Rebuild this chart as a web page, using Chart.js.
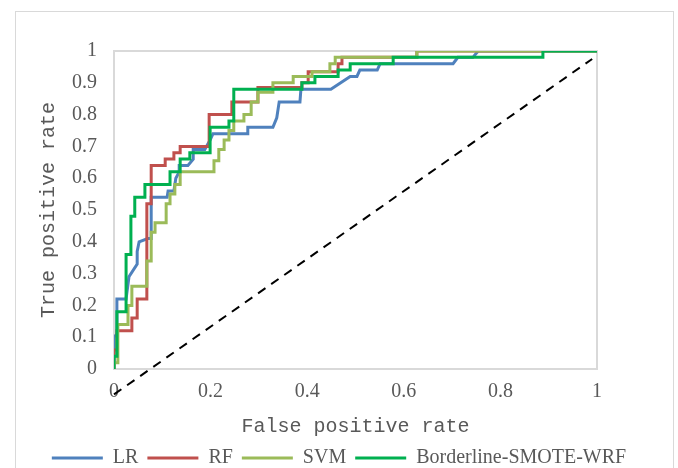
<!DOCTYPE html>
<html>
<head>
<meta charset="utf-8">
<script src="https://cdn.jsdelivr.net/npm/chart.js@4/dist/chart.umd.min.js"></script>
<style>
  html, body { margin: 0; padding: 0; background: #fff; }
  #wrap { position: relative; width: 678px; height: 468px; overflow: hidden; }
  #frame { position: absolute; left: 15px; top: 11px; width: 657px; height: 470px; border: 1px solid #d9d9d9; }
  #roc { position: absolute; left: 0; top: 0; }
</style>
</head>
<body>
<div id="wrap">
  <div id="frame"></div>
  <canvas id="roc" width="678" height="468"></canvas>
</div>
<script>
"use strict";

// series names
const names = ["LR", "RF", "SVM", "Borderline-SMOTE-WRF"];

// LR curve (false positive rate / true positive rate)
const lrX = [0, 0, 0.006, 0.006, 0.025, 0.031, 0.048, 0.048, 0.052, 0.070, 0.077, 0.077, 0.110, 0.112, 0.124, 0.128, 0.135, 0.135, 0.153, 0.164, 0.164, 0.188, 0.199, 0.205, 0.277, 0.277, 0.329, 0.337, 0.342, 0.385, 0.387, 0.449, 0.489, 0.503, 0.509, 0.545, 0.551, 0.702, 0.712, 0.743, 0.754, 1];
const lrY = [0, 0.10, 0.11, 0.22, 0.22, 0.29, 0.33, 0.37, 0.40, 0.41, 0.41, 0.54, 0.54, 0.56, 0.56, 0.60, 0.62, 0.64, 0.64, 0.66, 0.69, 0.69, 0.72, 0.74, 0.74, 0.76, 0.76, 0.79, 0.84, 0.84, 0.88, 0.88, 0.92, 0.92, 0.94, 0.94, 0.96, 0.96, 0.98, 0.98, 1, 1];

// RF curve
const rfX = [0, 0, 0.006, 0.006, 0.037, 0.037, 0.048, 0.048, 0.068, 0.068, 0.077, 0.077, 0.106, 0.106, 0.124, 0.124, 0.137, 0.137, 0.197, 0.197, 0.244, 0.244, 0.298, 0.298, 0.389, 0.389, 0.402, 0.402, 0.464, 0.464, 0.472, 0.472, 0.627, 0.627, 1];
const rfY = [0, 0.06, 0.06, 0.12, 0.12, 0.16, 0.16, 0.22, 0.22, 0.52, 0.52, 0.64, 0.64, 0.66, 0.66, 0.68, 0.68, 0.70, 0.70, 0.80, 0.80, 0.84, 0.84, 0.885, 0.885, 0.90, 0.90, 0.935, 0.935, 0.96, 0.96, 0.98, 0.98, 1, 1];

// SVM curve
const svmX = [0, 0, 0.008, 0.008, 0.029, 0.029, 0.037, 0.037, 0.068, 0.068, 0.077, 0.077, 0.085, 0.085, 0.108, 0.108, 0.116, 0.116, 0.126, 0.126, 0.137, 0.137, 0.207, 0.207, 0.217, 0.217, 0.228, 0.228, 0.238, 0.238, 0.248, 0.248, 0.269, 0.269, 0.284, 0.284, 0.298, 0.298, 0.329, 0.329, 0.371, 0.371, 0.410, 0.410, 0.447, 0.447, 0.458, 0.458, 0.627, 0.627, 1];
const svmY = [0, 0.02, 0.02, 0.14, 0.14, 0.20, 0.20, 0.26, 0.26, 0.34, 0.34, 0.43, 0.43, 0.46, 0.46, 0.52, 0.52, 0.55, 0.55, 0.58, 0.58, 0.62, 0.62, 0.655, 0.655, 0.69, 0.69, 0.72, 0.72, 0.75, 0.75, 0.78, 0.78, 0.80, 0.80, 0.84, 0.84, 0.87, 0.87, 0.90, 0.90, 0.92, 0.92, 0.935, 0.935, 0.96, 0.96, 0.98, 0.98, 1, 1];

// Borderline-SMOTE-WRF curve
const bswX = [0, 0, 0.006, 0.006, 0.025, 0.025, 0.035, 0.035, 0.043, 0.043, 0.064, 0.064, 0.116, 0.116, 0.137, 0.137, 0.157, 0.157, 0.199, 0.199, 0.238, 0.238, 0.248, 0.248, 0.389, 0.389, 0.416, 0.416, 0.464, 0.464, 0.489, 0.489, 0.578, 0.578, 0.888, 0.888, 1];
const bswY = [0, 0.04, 0.04, 0.18, 0.18, 0.36, 0.36, 0.48, 0.48, 0.54, 0.54, 0.58, 0.58, 0.62, 0.62, 0.66, 0.66, 0.68, 0.68, 0.76, 0.76, 0.78, 0.78, 0.88, 0.88, 0.90, 0.90, 0.92, 0.92, 0.94, 0.94, 0.96, 0.96, 0.98, 0.98, 1, 1];

// dashed reference line, as drawn in the picture
const diagX = [0, 0.99];
const diagY = [-0.08, 0.975];

const ticks = [0, 0.1, 0.2, 0.3, 0.4, 0.5, 0.6, 0.7, 0.8, 0.9, 1];

const COLORS = ['#4f81bd', '#c0504d', '#9bbb59', '#00b050'];
const TEXT = '#595959';

function toPoints(xs, ys) {
    return xs.map((x, i) => ({ x: x, y: ys[i] }));
}

function curve(i, xs, ys) {
    return {
        label: names[i],
        data: toPoints(xs, ys),
        borderColor: COLORS[i],
        backgroundColor: COLORS[i],
        borderWidth: 3,
        borderCapStyle: 'round',
        pointRadius: 0,
        tension: 0,
        order: 4 - i
    };
}

// thin grey box round the plot area
const plotBox = {
    id: 'plotBox',
    beforeDatasetsDraw(chart) {
        const a = chart.chartArea;
        const ctx = chart.ctx;
        ctx.save();
        ctx.strokeStyle = '#d9d9d9';
        ctx.lineWidth = 2;
        ctx.strokeRect(a.left, a.top, a.right - a.left, a.bottom - a.top);
        ctx.restore();
    }
};

const ctx = document.getElementById('roc').getContext('2d');
new Chart(ctx, {
    type: 'line',
    data: {
        datasets: [
            curve(0, lrX, lrY),
            curve(1, rfX, rfY),
            curve(2, svmX, svmY),
            curve(3, bswX, bswY),
            {
                label: 'diag',
                data: toPoints(diagX, diagY),
                borderColor: '#000000',
                borderWidth: 2,
                borderDash: [9, 7],
                pointRadius: 0,
                clip: false,
                order: 5
            }
        ]
    },
    options: {
        responsive: false,
        animation: false,
        layout: { padding: { top: 51, left: 0, right: 0, bottom: -10 } },
        scales: {
            x: {
                type: 'linear',
                min: 0,
                max: 1,
                grid: { display: false, drawTicks: false },
                border: { display: false },
                afterBuildTicks: (s) => { s.ticks = [0, 0.2, 0.4, 0.6, 0.8, 1].map(v => ({ value: v })); },
                ticks: {
                    padding: 11,
                    color: TEXT,
                    font: { family: 'Liberation Serif', size: 20 },
                    callback: (v) => String(v)
                },
                title: {
                    display: true,
                    text: 'False positive rate',
                    color: TEXT,
                    padding: 0,
                    font: { family: 'Liberation Mono', size: 20 }
                },
                afterFit: (s) => { s.height = 70; }
            },
            y: {
                type: 'linear',
                min: 0,
                max: 1,
                grid: { display: false, drawTicks: false },
                border: { display: false },
                afterBuildTicks: (s) => { s.ticks = ticks.map(v => ({ value: v })); },
                ticks: {
                    padding: 17,
                    color: TEXT,
                    font: { family: 'Liberation Serif', size: 20 },
                    callback: (v) => String(v)
                },
                title: {
                    display: true,
                    text: 'True positive rate',
                    color: TEXT,
                    padding: 37,
                    font: { family: 'Liberation Mono', size: 20 }
                },
                afterFit: (s) => { s.width = 114; }
            },
            y2: {
                position: 'right',
                min: 0,
                max: 1,
                grid: { display: false, drawTicks: false },
                border: { display: false },
                ticks: { display: false },
                afterFit: (s) => { s.width = 81; }
            }
        },
        plugins: {
            legend: {
                position: 'bottom',
                labels: {
                    usePointStyle: true,
                    pointStyle: 'line',
                    pointStyleWidth: 51,
                    padding: 9,
                    color: TEXT,
                    font: { family: 'Liberation Serif', size: 20 },
                    filter: (item) => item.text !== 'diag',
                    sort: (a, b) => a.datasetIndex - b.datasetIndex
                }
            },
            tooltip: { enabled: false }
        }
    },
    plugins: [plotBox]
});
</script>
</body>
</html>
